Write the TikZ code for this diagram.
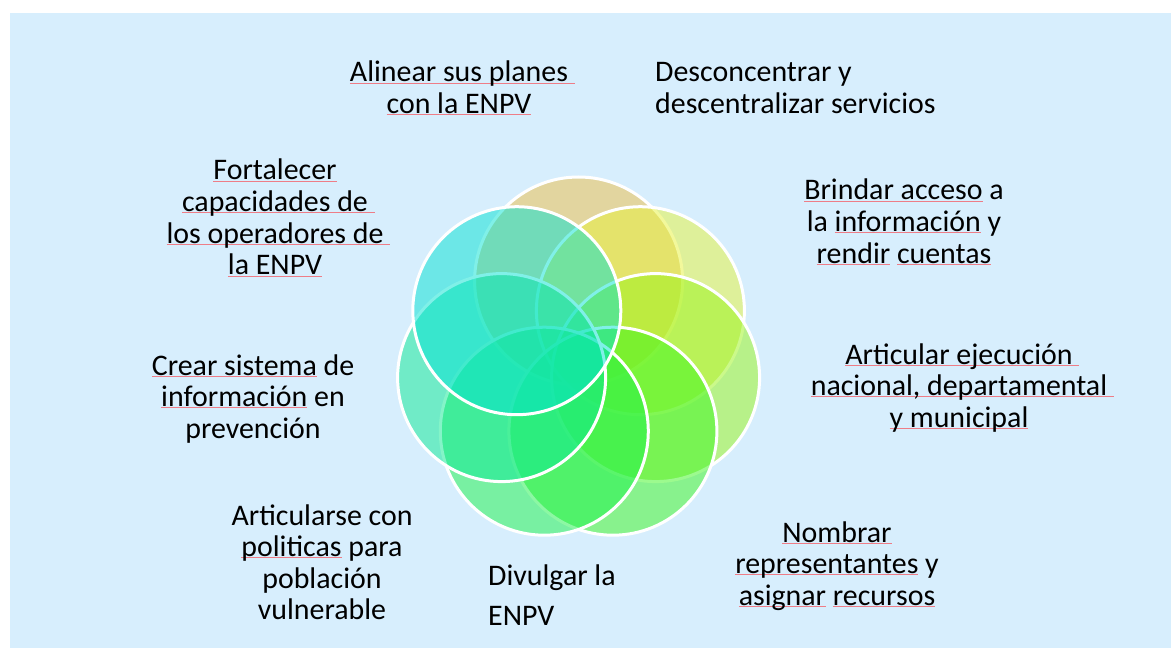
\documentclass[tikz,border=0pt]{standalone}
\usepackage{fontspec}
\setmainfont{Carlito}
\definecolor{bgblue}{RGB}{215,238,253}
\definecolor{sqred}{RGB}{238,125,135}
\definecolor{k0}{RGB}{238,190,67}
\definecolor{k1}{RGB}{230,242,57}
\definecolor{k2}{RGB}{152,244,23}
\definecolor{k3}{RGB}{58,246,31}
\definecolor{k4}{RGB}{26,242,73}
\definecolor{k5}{RGB}{10,234,147}
\definecolor{k6}{RGB}{2,226,211}
\newlength\sqw
\newcommand\sq[1]{\settowidth\sqw{#1}\makebox[0pt][l]{\textcolor{sqred}{\rule[-1.8bp]{\sqw}{0.9bp}}}#1}
\newcommand\blk[2]{\begin{tabular}[t]{@{}#1@{}}#2\end{tabular}}
\begin{document}
\begin{tikzpicture}[x=1bp,y=-1bp,
  ring/.style={circle, minimum size=208bp, inner sep=0pt, draw=white, line width=3bp, fill opacity=0.5, draw opacity=1},
  lbl/.style={inner sep=0pt, font=\fontsize{30}{31.7}\selectfont, anchor=base, text=black}]
\useasboundingbox (0,0) rectangle (1171,648);
\fill[white] (0,0) rectangle (1171,648);
\fill[bgblue] (10,13) rectangle (1171,648);
\foreach \i/\x/\y in {0/578.6/281, 1/640.4/310.7, 2/655.6/377.6, 3/612.9/431.2, 4/544.3/431.2, 5/501.6/377.6, 6/516.8/310.7}
  \node[ring, fill=k\i] (c\i) at (\x,\y) {};
\node[lbl] (n1) at (459,82) {\blk{c}{\sq{Alinear sus planes }\\\sq{con la ENPV}}};
\node[lbl, anchor=base west] (n2) at (655,82) {\blk{l}{Desconcentrar y\\descentralizar servicios}};
\node[lbl] (n3) at (275,180) {\blk{c}{\sq{Fortalecer}\\\sq{capacidades de }\\\sq{los operadores de }\\\sq{la ENPV}}};
\node[lbl] (n4) at (904,200) {\blk{c}{\sq{Brindar acceso} a\\la \sq{información} y\\\sq{rendir} \sq{cuentas}}};
\node[lbl] (n5) at (959,364) {\blk{c}{\sq{Articular ejecución }\\\sq{nacional, departamental }\\\sq{y municipal}}};
\node[lbl] (n6) at (253,375) {\blk{c}{\sq{Crear sistema} de\\\sq{información} en\\prevención}};
\node[lbl] (n7) at (322,525) {\blk{c}{Articularse con\\\sq{politicas} para\\población\\vulnerable}};
\node[lbl, anchor=base west] (n8) at (488,585) {\blk{l}{Divulgar la\\[8.5bp]ENPV}};
\node[lbl] (n9) at (837,542) {\blk{c}{\sq{Nombrar}\\\sq{representantes} y\\\sq{asignar} \sq{recursos}}};
\end{tikzpicture}
\end{document}
